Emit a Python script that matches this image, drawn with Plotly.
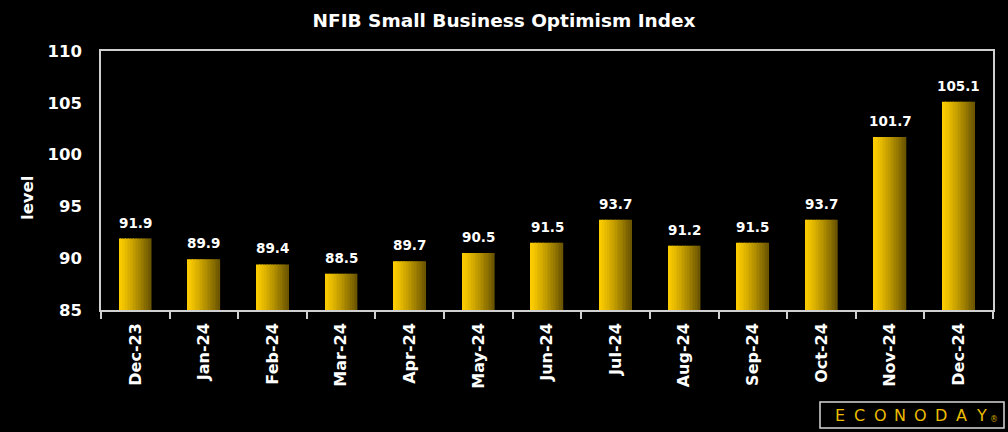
import plotly.graph_objects as go

months = ["Dec-23", "Jan-24", "Feb-24", "Mar-24", "Apr-24", "May-24", "Jun-24",
          "Jul-24", "Aug-24", "Sep-24", "Oct-24", "Nov-24", "Dec-24"]
values = [91.9, 89.9, 89.4, 88.5, 89.7, 90.5, 91.5, 93.7, 91.2, 91.5, 93.7, 101.7, 105.1]
y_ticks = [85, 90, 95, 100, 105, 110]

FONT = "DejaVu Sans"
BAR_W = 0.47
N = 20
c0 = (252, 204, 0)
c1 = (108, 86, 0)

W, H = 1008, 432
L, R, T, B = 101, 15, 51, 122
PW, PH = W - L - R, H - T - B


def px(x):
    return (x - L) / PW


def py(y):
    return (H - B - y) / PH


fig = go.Figure()
for i in range(N):
    t = i / (N - 1)
    tt = t ** 1.2
    col = tuple(int(round(c0[k] + (c1[k] - c0[k]) * tt)) for k in range(3))
    fig.add_trace(go.Bar(
        x=months, y=values,
        width=BAR_W / N * 1.05, offset=-BAR_W / 2 + i * BAR_W / N,
        marker=dict(color="rgb(%d,%d,%d)" % col, line=dict(width=0)),
        hoverinfo="skip", showlegend=False,
    ))

for m, v in zip(months, values):
    fig.add_annotation(x=m, y=v, text="<b>%.1f</b>" % v, showarrow=False,
                       xanchor="center", yanchor="bottom", yshift=6,
                       font=dict(family=FONT, size=13.5, color="white"))

fig.update_layout(
    width=W, height=H,
    paper_bgcolor="black", plot_bgcolor="black",
    margin=dict(l=L, r=R, t=T, b=B),
    barmode="overlay",
    title=dict(text="<b>NFIB Small Business Optimism Index</b>", x=0.5, xanchor="center",
               y=0.953, yanchor="middle",
               font=dict(family=FONT, size=18.5, color="white")),
    xaxis=dict(
        type="category", tickangle=-90, tickson="boundaries",
        range=[-0.5, len(months) - 0.5],
        ticks="outside", ticklen=7, tickcolor="#d0d0d0", tickwidth=1.5,
        showline=True, linecolor="#d0d0d0", linewidth=1.5, mirror=True,
        showgrid=False, zeroline=False,
        tickfont=dict(family=FONT, size=16, color="white"),
        tickmode="array", tickvals=months, ticktext=["<b>%s</b>" % m for m in months],
        ticklabelstandoff=5,
    ),
    yaxis=dict(
        range=[85, 110], tickvals=y_ticks, ticktext=["<b>%d</b>" % v for v in y_ticks],
        showline=True, linecolor="#d0d0d0", linewidth=1.5, mirror=True,
        showgrid=False, zeroline=False, ticks="",
        tickfont=dict(family=FONT, size=16.5, color="white"),
        ticklabelstandoff=14,
    ),
)

fig.add_annotation(xref="paper", yref="paper", x=px(27), y=py(198),
                   text="<b>level</b>", textangle=-90, showarrow=False,
                   xanchor="center", yanchor="middle",
                   font=dict(family=FONT, size=16.5, color="white"))

fig.add_shape(type="rect", xref="paper", yref="paper",
              x0=px(820), x1=px(1004), y0=py(402), y1=py(428),
              line=dict(color="#d8d8d8", width=1.5), fillcolor="black")
logo = "ECONODAY"
for j, ch in enumerate(logo):
    fig.add_annotation(xref="paper", yref="paper",
                       x=px(839.5 + j * 20.3), y=py(415.5),
                       text=ch, showarrow=False,
                       xanchor="center", yanchor="middle",
                       font=dict(family="DejaVu Sans", size=16, color="#ecbc00"))
fig.add_annotation(xref="paper", yref="paper",
                   x=px(994), y=py(419.5),
                   text="®", showarrow=False, xanchor="center", yanchor="middle",
                   font=dict(family="DejaVu Sans", size=8, color="#c8a000"))

fig.write_html("out.html", config={"displayModeBar": False},
               post_script="document.body.style.margin='0';document.body.style.overflow='hidden';")
